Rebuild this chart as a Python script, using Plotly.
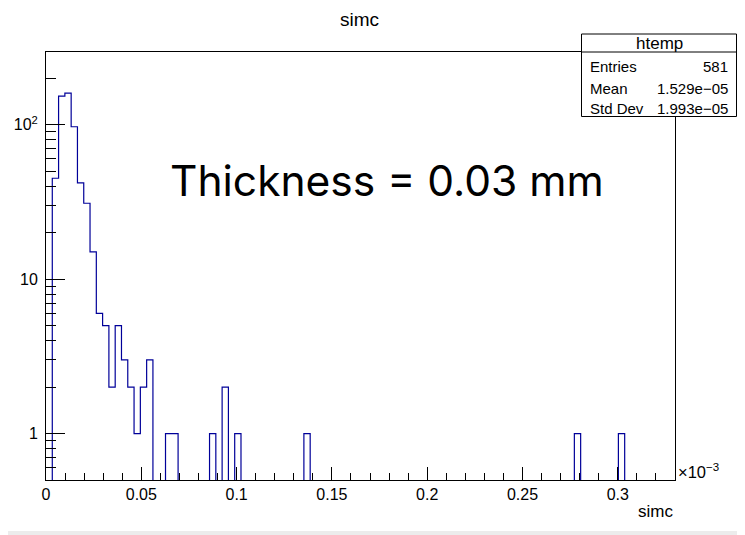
import plotly.graph_objects as go

# ---- data (x in units of 1e-3) ----
x_min = 0.0
x_max = 0.33
n_bins = 100
counts = [
    0, 45, 153, 160, 97, 42, 31, 15, 6, 5,
    2, 5, 3, 2, 1, 2, 3, 0, 0, 1,
    1, 0, 0, 0, 0, 0, 1, 0, 2, 0,
    1, 0, 0, 0, 0, 0, 0, 0, 0, 0,
    0, 1, 0, 0, 0, 0, 0, 0, 0, 0,
    0, 0, 0, 0, 0, 0, 0, 0, 0, 0,
    0, 0, 0, 0, 0, 0, 0, 0, 0, 0,
    0, 0, 0, 0, 0, 0, 0, 0, 0, 0,
    0, 0, 0, 0, 1, 0, 0, 0, 0, 0,
    0, 1, 0, 0, 0, 0, 0, 0, 0, 0,
]
stat_labels = ["Entries", "Mean", "Std Dev"]
stat_values = ["581", "1.529e\u221205", "1.993e\u221205"]
y_tick_vals = [1, 10, 100]
y_tick_text = ["1", "10", "10<sup>2</sup>"]
y_minor_vals = [0.6, 0.7, 0.8, 0.9, 2, 3, 4, 5, 6, 7, 8, 9,
                20, 30, 40, 50, 60, 70, 80, 90, 200]

# ---- build step outline ----
width = (x_max - x_min) / n_bins
edges = [x_min + i * width for i in range(n_bins + 1)]
floor = 1e-3  # empty bins drop below the visible log range
ys = [c if c > 0 else floor for c in counts]
ys = ys + [ys[-1]]

fig = go.Figure()
fig.add_trace(go.Scatter(
    x=edges, y=ys, mode="lines", line_shape="hv",
    line=dict(color="#000099", width=1.2), hoverinfo="skip", showlegend=False,
))

FONT = "Liberation Sans, Arial, Helvetica, sans-serif"
OFF = 8  # page body margin
W, H = 745 - OFF, 535 - OFF
L, R, T, B = 46 - OFF, 70, 52 - OFF, 55
PW, PH = W - L - R, H - T - B


def px(x):
    return (x - OFF - L) / PW


def py(y):
    return (H - B - (y - OFF)) / PH


fig.update_layout(
    width=W, height=H,
    margin=dict(l=L, r=R, t=T, b=B, autoexpand=False),
    paper_bgcolor="white", plot_bgcolor="white",
    font=dict(family=FONT, size=16, color="black"),
    showlegend=False,
)
fig.update_xaxes(
    range=[x_min, x_max], showgrid=False, zeroline=False, automargin=False,
    showline=True, linecolor="black", linewidth=1, mirror=True,
    ticks="inside", ticklen=13, tickcolor="black", tickwidth=1,
    tick0=0, dtick=0.05, tickfont=dict(family=FONT, size=16),
    minor=dict(ticks="inside", ticklen=7, dtick=0.01, tick0=0,
               tickcolor="black", showgrid=False),
)
fig.update_yaxes(
    type="log", range=[-0.301, 2.471], showgrid=False, zeroline=False, automargin=False,
    showline=True, linecolor="black", linewidth=1, mirror=True,
    ticks="inside", ticklen=19, tickcolor="black", tickwidth=1,
    tickmode="array", tickvals=y_tick_vals, ticktext=y_tick_text,
    tickfont=dict(family=FONT, size=16), ticklabelstandoff=4,
    minor=dict(ticks="inside", ticklen=10, tickmode="array",
               tickvals=y_minor_vals, tickcolor="black", showgrid=False),
)

# stat box
bx0, bx1, by0, by1, bsep = 581.5, 736.5, 34, 116.5, 52
fig.add_shape(type="rect", xref="paper", yref="paper",
              x0=px(bx0), x1=px(bx1), y0=py(by1), y1=py(by0),
              line=dict(color="black", width=1), fillcolor="white", layer="above")
fig.add_shape(type="line", xref="paper", yref="paper",
              x0=px(bx0), x1=px(bx1), y0=py(bsep), y1=py(bsep),
              line=dict(color="black", width=1), layer="above")
# faint grey strip at the bottom edge of the screenshot
fig.add_shape(type="rect", xref="paper", yref="paper",
              x0=px(OFF), x1=px(745), y0=py(535), y1=py(531),
              line=dict(width=0), fillcolor="#ececec", layer="below")

annotations = []
annotations.append(dict(text="htemp", x=px((bx0 + bx1) / 2), y=py(43), xref="paper", yref="paper",
                        showarrow=False, xanchor="center", yanchor="middle",
                        font=dict(family=FONT, size=17)))
row_y = [67, 88, 108]
for lab, val, yy in zip(stat_labels, stat_values, row_y):
    annotations.append(dict(text=lab, x=px(587.5), y=py(yy), xref="paper", yref="paper",
                            showarrow=False, xanchor="left", yanchor="middle",
                            font=dict(family=FONT, size=15)))
    annotations.append(dict(text=val, x=px(730), y=py(yy), xref="paper", yref="paper",
                            showarrow=False, xanchor="right", yanchor="middle",
                            font=dict(family=FONT, size=15)))
# title
annotations.append(dict(text="simc", x=px(359), y=py(19.5), xref="paper", yref="paper",
                        showarrow=False, xanchor="center", yanchor="middle",
                        font=dict(family=FONT, size=19)))
# x-axis title
annotations.append(dict(text="simc", x=px(675), y=py(511), xref="paper", yref="paper",
                        showarrow=False, xanchor="right", yanchor="middle",
                        font=dict(family=FONT, size=17)))
# exponent
annotations.append(dict(text="\u00d710<sup>\u22123</sup>", x=px(676), y=py(483), xref="paper", yref="paper",
                        showarrow=False, xanchor="left", yanchor="bottom",
                        font=dict(family=FONT, size=16.5)))
# big label
annotations.append(dict(text="Thickness = 0.03 mm", x=px(386.7), y=py(181), xref="paper", yref="paper",
                        showarrow=False, xanchor="center", yanchor="middle",
                        font=dict(family="Inter, Roboto, sans-serif", size=42.5, color="black")))
fig.update_layout(annotations=annotations)

fig.write_html("out.html")
